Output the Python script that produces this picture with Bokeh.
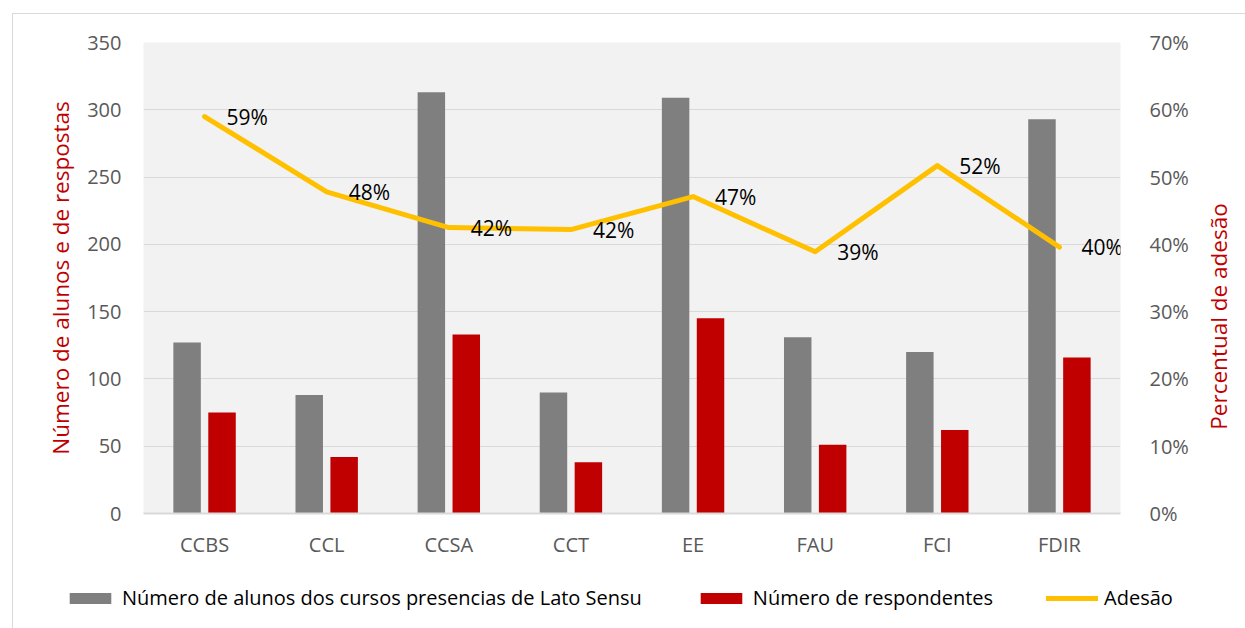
from bokeh.plotting import figure
from bokeh.layouts import column, row
from bokeh.models import (ColumnDataSource, Range1d, LinearAxis, FixedTicker,
                          NumeralTickFormatter, Legend, LegendItem, Title)
from bokeh.transform import dodge
from bokeh.core.properties import value
from bokeh.embed import file_html
from bokeh.resources import INLINE

# ---- data ----
unidades = ["CCBS", "CCL", "CCSA", "CCT", "EE", "FAU", "FCI", "FDIR"]
alunos = [127, 88, 313, 90, 309, 131, 120, 293]
respondentes = [75, 42, 133, 38, 145, 51, 62, 116]
adesao = [0.590, 0.478, 0.425, 0.422, 0.471, 0.389, 0.517, 0.396]
adesao_rotulos = ["59%", "48%", "42%", "42%", "47%", "39%", "52%", "40%"]
ticks_esq = [0, 50, 100, 150, 200, 250, 300, 350]
ticks_dir = [0.0, 0.1, 0.2, 0.3, 0.4, 0.5, 0.6, 0.7]
nome_alunos = "Número de alunos dos cursos presencias de Lato Sensu"
nome_resp = "Número de respondentes"
nome_adesao = "Adesão"
titulo_esq = "Número de alunos e de respostas"
titulo_dir = "Percentual de adesão"

FONT = "Open Sans"
TICK_COLOR = "#595959"
RED = "#C00000"
GRAY = "#7F7F7F"
GOLD = "#FFC000"

src = ColumnDataSource(dict(unidade=unidades, alunos=alunos, resp=respondentes,
                            adesao=adesao, rot=adesao_rotulos))

# ---- main chart ----
p = figure(x_range=unidades, y_range=Range1d(0, 350),
           width=1187, height=555,
           min_border_left=130, min_border_right=80,
           min_border_top=28, min_border_bottom=56,
           output_backend="svg", toolbar_location=None,
           background_fill_color="#F2F2F2", border_fill_color="white",
           outline_line_color=None)
p.frame_align = False

p.extra_y_ranges = {"pct": Range1d(0, 0.7)}

p.vbar(x=dodge("unidade", -0.143, range=p.x_range), top="alunos", width=0.225,
       source=src, fill_color=GRAY, line_color=None)
p.vbar(x=dodge("unidade", 0.143, range=p.x_range), top="resp", width=0.225,
       source=src, fill_color=RED, line_color=None)
p.line(x="unidade", y="adesao", source=src, y_range_name="pct",
       line_color=GOLD, line_width=5, line_join="round", line_cap="round")
p.text(x="unidade", y="adesao", text="rot", source=src, y_range_name="pct",
       x_offset=22, y_offset=0, text_align="left", text_baseline="middle",
       text_font=value(FONT), text_font_size="21px", text_color="black")

ya = p.yaxis[0]
ya.ticker = FixedTicker(ticks=ticks_esq)
ya.axis_label = titulo_esq
ya.axis_label_text_font = FONT
ya.axis_label_text_font_size = "22.5px"
ya.axis_label_text_font_style = "normal"
ya.axis_label_text_color = RED
ya.axis_label_standoff = 8

ra = LinearAxis(y_range_name="pct", ticker=FixedTicker(ticks=ticks_dir),
                formatter=NumeralTickFormatter(format="0%"))
p.add_layout(ra, "right")

for ax in [ya, ra]:
    ax.axis_line_color = None
    ax.major_tick_line_color = None
    ax.minor_tick_line_color = None
    ax.major_label_text_font = FONT
    ax.major_label_text_font_size = "20px"
    ax.major_label_text_color = TICK_COLOR
ya.major_label_standoff = 16
ra.major_label_standoff = 23

xa = p.xaxis[0]
xa.axis_line_color = "#D9D9D9"
xa.axis_line_width = 2
xa.major_tick_line_color = None
xa.minor_tick_line_color = None
xa.major_label_standoff = 11
xa.major_label_text_font = FONT
xa.major_label_text_font_size = "20px"
xa.major_label_text_color = TICK_COLOR

p.xgrid.grid_line_color = None
p.ygrid.grid_line_color = "#D9D9D9"
p.ygrid.grid_line_width = 1

# ---- right axis title strip ----
rf = figure(width=45, height=555, min_border=0, min_border_top=49,
            x_range=Range1d(0, 1), y_range=Range1d(0, 1),
            output_backend="svg", toolbar_location=None, outline_line_color=None,
            x_axis_location=None, y_axis_location=None)
rf.frame_align = False
rf.xgrid.grid_line_color = None
rf.ygrid.grid_line_color = None
rf.add_layout(Title(text=titulo_dir, align="center", text_color=RED, text_font=FONT,
                    text_font_size="22.5px", text_font_style="normal", standoff=0, offset=0),
              "left")

# ---- legend strip ----
lf = figure(width=1232, height=59, min_border=0, x_range=p.x_range, y_range=Range1d(1000, 1001),
            output_backend="svg", toolbar_location=None, outline_line_color=None,
            x_axis_location=None, y_axis_location=None)
lf.frame_align = False
lf.xgrid.grid_line_color = None
lf.ygrid.grid_line_color = None
g_al = lf.vbar(x="unidade", top="alunos", width=0.225, source=src, fill_color=GRAY, line_color=None)
g_re = lf.vbar(x="unidade", top="resp", width=0.225, source=src, fill_color=RED, line_color=None)
g_ln = lf.line(x="unidade", y="adesao", source=src, line_color=GOLD, line_width=5, line_cap="round")

legend = Legend(items=[LegendItem(label=nome_alunos, renderers=[g_al]),
                       LegendItem(label=nome_resp, renderers=[g_re]),
                       LegendItem(label=nome_adesao, renderers=[g_ln])],
                orientation="horizontal", location=(51, 17),
                glyph_width=52, glyph_height=14, label_standoff=6, spacing=53,
                padding=0, margin=0, border_line_color=None, background_fill_alpha=0,
                label_text_font=FONT, label_text_font_size="20px", label_text_color="black")
lf.add_layout(legend, "center")

layout = column(row(p, rf, spacing=0), lf, spacing=0)
layout.styles = {"margin-left": "12px", "margin-top": "13px",
                 "border-left": "1px solid #D9D9D9", "border-top": "1px solid #D9D9D9"}

open("out.html", "w").write(file_html(layout, INLINE))
